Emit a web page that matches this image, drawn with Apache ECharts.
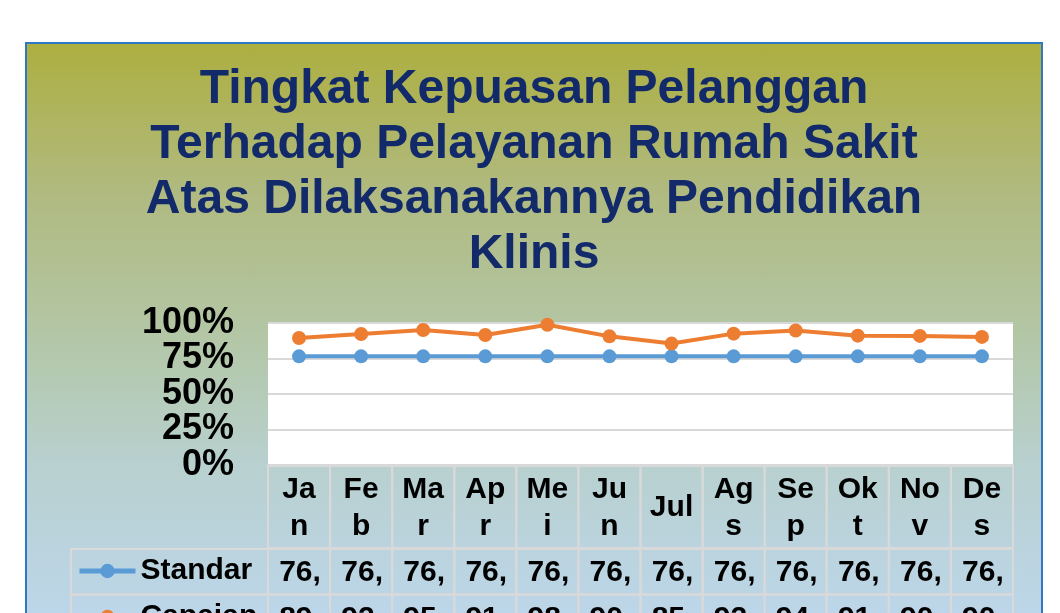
<!DOCTYPE html>
<html>
<head>
<meta charset="utf-8">
<script src="https://cdn.jsdelivr.net/npm/echarts@6/dist/echarts.min.js"></script>
<style>
html,body{margin:0;padding:0;background:#fff;width:1060px;height:613px;overflow:hidden;}
#panel{position:absolute;left:25px;top:42px;width:1018px;height:600px;box-sizing:border-box;border:2px solid #2E78C4;
background:linear-gradient(to bottom,#ADAF40 0%,#B0BA80 25%,#B3C6A4 48%,#B8D0CE 70%,#BDD7EE 100%);}
#chart{position:absolute;left:0;top:0;width:1014px;height:596px;}
</style>
</head>
<body>
<div id="panel"><div id="chart"></div></div>
<script>
const titleText = 'Tingkat Kepuasan Pelanggan\nTerhadap Pelayanan Rumah Sakit\nAtas Dilaksanakannya Pendidikan\nKlinis';
const months = ['Jan','Feb','Mar','Apr','Mei','Jun','Jul','Ags','Sep','Okt','Nov','Des'];
const seriesNames = ['Standar','Capaian'];
const standar = [76.5,76.5,76.5,76.5,76.5,76.5,76.5,76.5,76.5,76.5,76.5,76.5];
const capaian = [89.4,92.3,95.1,91.6,98.8,90.6,85.5,92.5,94.7,91.1,90.9,90.2];
const yTicks = [0,25,50,75,100];
const yTicksEven = yTicks.filter((v,i)=>i%2===0);
const yTicksOdd = yTicks.filter((v,i)=>i%2===1);

const FONT = '"Liberation Sans", Arial, sans-serif';
const BORDER = '#D9D9D9';

function fmt(v){ return v.toFixed(1).replace('.', ',') + '%'; }

function cellRect(c, s){
  return {type:'rect', shape:{x:c[0]-s[0]/2, y:c[1]-s[1]/2, width:s[0], height:s[1]},
    style:{fill:'rgba(0,0,0,0)', stroke:BORDER, lineWidth:2}};
}

const headerData = months.map((m,i)=>[i,0,m]);
const bodyData = [];
[standar, capaian].forEach((arr,r)=>arr.forEach((v,i)=>bodyData.push([i,r,v])));
const legendCellData = seriesNames.map((n,r)=>[0,r]);

const yLabelStyle = {formatter:'{value}%', fontFamily:FONT, fontSize:36, fontWeight:'bold', color:'#000', margin:34,
  showMinLabel:true, showMaxLabel:true, hideOverlap:false};

const chart = echarts.init(document.getElementById('chart'), null, {renderer:'canvas'});
chart.setOption({
  backgroundColor:'transparent',
  animation:false,
  title:{
    text:titleText, left:'center', top:18, padding:0,
    textStyle:{fontFamily:FONT, fontSize:48, fontWeight:'bold', color:'#12296A', lineHeight:55}
  },
  legend:{
    data:seriesNames, orient:'vertical', left:50, top:512, padding:0,
    itemWidth:56, itemHeight:18, itemGap:16,
    lineStyle:{width:5},
    textStyle:{fontFamily:FONT, fontSize:30, fontWeight:'bold', color:'#000', lineHeight:30}
  },
  grid:[
    {left:241, top:279, width:745, height:142, show:true, backgroundColor:'#fff', borderWidth:0, containLabel:false},
    {left:241, top:422, width:745, height:82, containLabel:false},
    {left:241, top:505, width:745, height:92, containLabel:false},
    {left:44, top:505, width:197, height:92, containLabel:false}
  ],
  xAxis:[
    {type:'category', gridIndex:0, data:months, boundaryGap:true,
      axisLabel:{show:false}, axisTick:{show:false},
      axisLine:{show:true, lineStyle:{color:BORDER, width:2}}},
    {type:'category', gridIndex:1, data:months, show:false},
    {type:'category', gridIndex:2, data:months, show:false},
    {type:'category', gridIndex:3, data:['k'], show:false}
  ],
  yAxis:[
    {type:'value', gridIndex:0, min:yTicks[0], max:yTicks[yTicks.length-1], interval:yTicks[1]-yTicks[0],
      axisLabel:Object.assign({customValues:yTicksEven}, yLabelStyle),
      axisLine:{show:false}, axisTick:{show:false},
      splitLine:{show:true, lineStyle:{color:BORDER, width:2}}},
    {type:'category', gridIndex:1, data:['h'], show:false},
    {type:'category', gridIndex:2, data:seriesNames, inverse:true, show:false},
    {type:'category', gridIndex:3, data:seriesNames, inverse:true, show:false},
    {type:'value', gridIndex:0, position:'left', min:yTicks[0], max:yTicks[yTicks.length-1], interval:yTicks[1]-yTicks[0],
      axisLabel:Object.assign({customValues:yTicksOdd}, yLabelStyle),
      axisLine:{show:false}, axisTick:{show:false}, splitLine:{show:false}}
  ],
  series:[
    {name:'Standar', type:'line', xAxisIndex:0, yAxisIndex:0, data:standar,
      symbol:'circle', symbolSize:14, showAllSymbol:true,
      lineStyle:{color:'#5B9BD5', width:4}, itemStyle:{color:'#5B9BD5'}, z:3},
    {name:'Capaian', type:'line', xAxisIndex:0, yAxisIndex:0, data:capaian,
      symbol:'circle', symbolSize:14, showAllSymbol:true,
      lineStyle:{color:'#ED7D31', width:4}, itemStyle:{color:'#ED7D31'}, z:4},
    {type:'custom', xAxisIndex:1, yAxisIndex:1, data:headerData, encode:{x:0,y:1},
      silent:true,
      renderItem:function(params, api){
        const c = api.coord([api.value(0), api.value(1)]);
        const s = api.size([1,1]);
        return {type:'group', children:[
          cellRect(c,s),
          {type:'text', x:c[0], y:c[1]+1, style:{text:months[api.value(0)], fontFamily:FONT, fontSize:30, fontWeight:'bold',
            fill:'#000', align:'center', verticalAlign:'middle', textAlign:'center', textVerticalAlign:'middle',
            width:49, overflow:'break', lineHeight:37}}
        ]};
      }},
    {type:'custom', xAxisIndex:2, yAxisIndex:2, data:bodyData, encode:{x:0,y:1},
      silent:true,
      renderItem:function(params, api){
        const c = api.coord([api.value(0), api.value(1)]);
        const s = api.size([1,1]);
        return {type:'group', children:[
          cellRect(c,s),
          {type:'text', x:c[0]+1, y:c[1]+1, style:{text:fmt(api.value(2)), fontFamily:FONT, fontSize:30, fontWeight:'bold',
            fill:'#000', align:'center', verticalAlign:'middle', textAlign:'center', textVerticalAlign:'middle',
            width:50, overflow:'truncate', ellipsis:''}}
        ]};
      }},
    {type:'custom', xAxisIndex:3, yAxisIndex:3, data:legendCellData, encode:{x:0,y:1},
      silent:true,
      renderItem:function(params, api){
        const c = api.coord([api.value(0), api.value(1)]);
        const s = api.size([1,1]);
        return cellRect(c,s);
      }}
  ]
});
</script>
</body>
</html>
